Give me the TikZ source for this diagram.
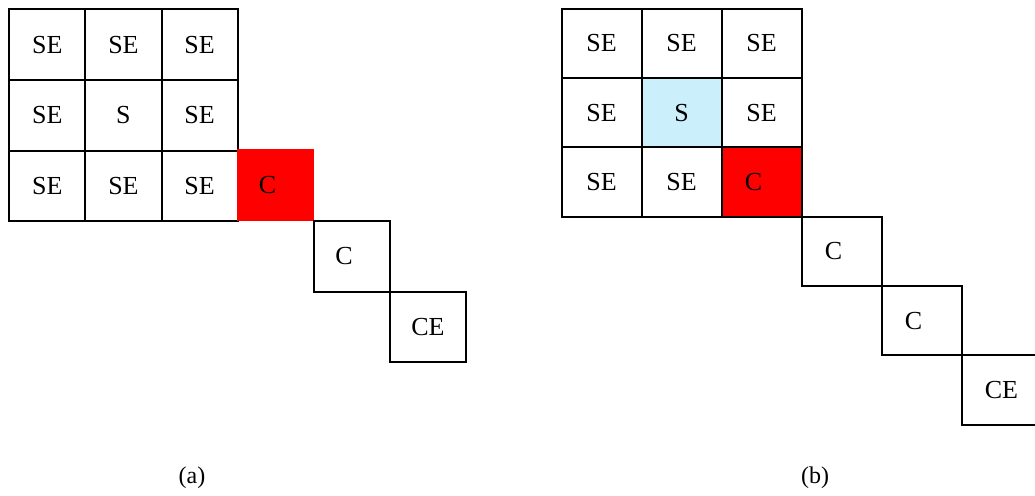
\documentclass[tikz,border=0pt]{standalone}
\usepackage{fontspec}
\setmainfont{Liberation Serif}
\tikzset{
  cell/.style={draw, line width=2pt, inner sep=0pt, font=\fontsize{26}{31}\selectfont},
  cella/.style={cell, minimum width=76.1pt, minimum height=70.6pt},
  cellb/.style={cell, minimum width=80pt, minimum height=69.3pt},
  hit/.style={fill=red},
  source/.style={fill=cyan!20},
  caption/.style={font=\fontsize{24}{29}\selectfont}
}
% text of a "C" cell sits a little left of the cell centre
\newcommand{\ctext}[1]{#1\hspace*{16pt}}
\begin{document}
\begin{tikzpicture}[x=1pt, y=-1pt]
  \clip (0,0) rectangle (1035,495);

  % ---- (a) ----
  \foreach \r/\c/\t in {0/0/SE, 0/1/SE, 0/2/SE,
                        1/0/SE, 1/1/S,  1/2/SE,
                        2/0/SE, 2/1/SE, 2/2/SE}
    \node[cella] (a\r\c) at ({9.3+76.1*(\c+0.5)}, {9.3+70.6*(\r+0.5)}) {\t};
  \node[cell, draw=none, hit, minimum width=77.6pt, minimum height=71.7pt]
    (a23) at (275.5,185.2) {\ctext{C}};
  \node[cella] (a34) at (352,256.5) {\ctext{C}};
  \node[cella] (a45) at (428,327) {CE};
  \node[caption] (capa) at (192,478) {(a)};

  % ---- (b) ----
  \foreach \r/\c/\t/\s in {0/0/SE/, 0/1/SE/, 0/2/SE/,
                           1/0/SE/, 1/1/S/source, 1/2/SE/,
                           2/0/SE/, 2/1/SE/, 2/2/\ctext{C}/hit}
    \node[cellb, \s] (b\r\c) at ({561.5+80*(\c+0.5)}, {8.7+69.3*(\r+0.5)}) {\t};
  \node[cellb] (b33) at (841.5,251.25) {\ctext{C}};
  \node[cellb] (b44) at (921.5,320.55) {\ctext{C}};
  \node[cellb] (b55) at (1001.5,389.85) {CE};
  \node[caption] (capb) at (815,478) {(b)};
\end{tikzpicture}
\end{document}
